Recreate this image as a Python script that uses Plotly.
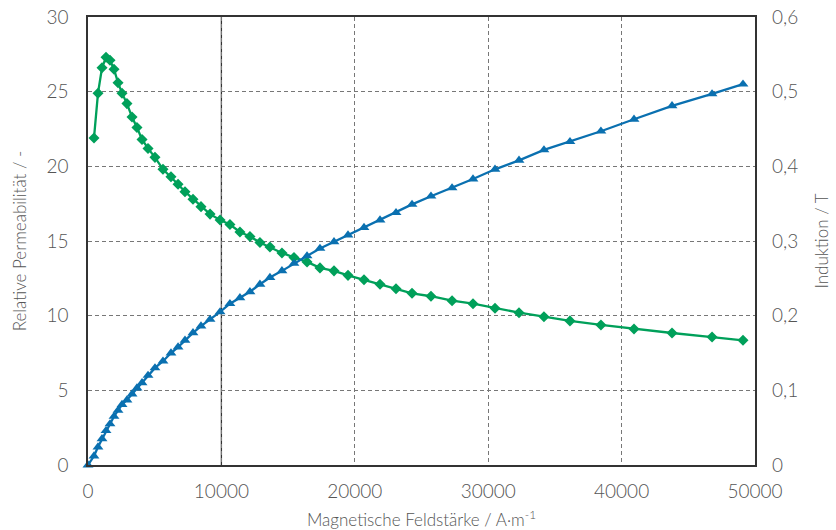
import plotly.graph_objects as go

# Magnetic field strength H (A/m) for the blue induction curve
H_B = [0, 450, 750, 1050, 1350, 1650, 1950, 2250, 2550, 2920, 3300, 3670, 4050, 4500,
       5020, 5620, 6220, 6750, 7270, 7870, 8470, 9150, 9900, 10640, 11390, 12140,
       12890, 13640, 14540, 15440, 16420, 17390, 18440, 19490, 20690, 21890, 23090,
       24290, 25710, 27290, 28860, 30510, 32310, 34180, 36130, 38450, 40930, 43780,
       46780, 49100]
induction = [0, 0.012, 0.024, 0.035, 0.046, 0.055, 0.065, 0.073, 0.081, 0.087, 0.095,
             0.103, 0.110, 0.120, 0.130, 0.139, 0.150, 0.158, 0.167, 0.177, 0.186,
             0.195, 0.205, 0.216, 0.224, 0.232, 0.242, 0.251, 0.260, 0.270, 0.280,
             0.290, 0.299, 0.308, 0.318, 0.328, 0.338, 0.349, 0.360, 0.371, 0.383,
             0.396, 0.408, 0.422, 0.433, 0.447, 0.463, 0.481, 0.497, 0.510]

# Relative permeability (green curve)
H_mu = H_B[1:]
permeability = [21.9, 24.9, 26.6, 27.3, 27.1, 26.5, 25.6, 24.9, 24.2, 23.3, 22.6, 21.8,
                21.2, 20.6, 19.8, 19.3, 18.8, 18.3, 17.8, 17.3, 16.8, 16.4, 16.1, 15.6,
                15.3, 14.9, 14.6, 14.2, 13.9, 13.6, 13.2, 13.0, 12.7, 12.4, 12.1, 11.8,
                11.5, 11.3, 11.0, 10.8, 10.5, 10.2, 9.93, 9.65, 9.38, 9.11, 8.84, 8.57,
                8.35]

x_ticks = [0, 10000, 20000, 30000, 40000, 50000]
x_ticklabels = ["0", "10000", "20000", "30000", "40000", "50000"]
y_ticks = [0, 5, 10, 15, 20, 25, 30]
y2_ticks = [0, 0.1, 0.2, 0.3, 0.4, 0.5, 0.6]
y2_ticklabels = ["0", "0,1", "0,2", "0,3", "0,4", "0,5", "0,6"]
solid_grid_x = 10000

GREEN = "#00a05a"
BLUE = "#0a70b0"
TXT = "#555555"
FONT = "Lato"
TICKFONT = dict(family=FONT, size=19, color=TXT, weight=300)
TITLEFONT = dict(family=FONT, size=17, color=TXT, weight=300)
GRID = dict(showgrid=True, gridcolor="#777777", griddash="4px,3px", gridwidth=1)

fig = go.Figure()
fig.add_trace(go.Scatter(
    x=H_mu, y=permeability, mode="lines+markers", name="Relative Permeabilität",
    line=dict(color=GREEN, width=2.3),
    marker=dict(symbol="diamond", size=8.5, color=GREEN),
    cliponaxis=False))
fig.add_trace(go.Scatter(
    x=H_B, y=induction, mode="lines+markers", name="Induktion", yaxis="y2",
    line=dict(color=BLUE, width=2.3),
    marker=dict(symbol="triangle-up", size=9.5, color=BLUE),
    cliponaxis=False))

fig.add_shape(type="line", xref="x", yref="paper", x0=solid_grid_x, x1=solid_grid_x,
              y0=0, y1=1, line=dict(color="#333333", width=1.3), layer="below")

fig.update_layout(
    width=836, height=530,
    margin=dict(l=88, r=81, t=17, b=65),
    plot_bgcolor="white", paper_bgcolor="white",
    showlegend=False,
    font=dict(family=FONT, color=TXT, size=17),
    xaxis=dict(
        range=[0, 50000], tickvals=x_ticks, ticktext=x_ticklabels, automargin=False,
        showline=True, linecolor="#333333", linewidth=1.5, mirror=True,
        zeroline=False, ticks="", ticklabelstandoff=8,
        tickfont=TICKFONT,
        title=dict(text="Magnetische Feldstärke / A·m<sup>-1</sup>",
                   font=TITLEFONT, standoff=14),
        **GRID,
    ),
    yaxis=dict(
        range=[0, 30], tickvals=y_ticks, automargin=False,
        showline=True, linecolor="#333333", linewidth=1.5, mirror=True,
        zeroline=False, ticks="", ticklabelstandoff=14,
        tickfont=TICKFONT,
        title=dict(text="Relative Permeabilität / -", font=TITLEFONT, standoff=15),
        **GRID,
    ),
    yaxis2=dict(
        range=[0, 0.6], tickvals=y2_ticks, ticktext=y2_ticklabels, automargin=False,
        overlaying="y", side="right", showgrid=False, zeroline=False,
        showline=False, ticks="", ticklabelstandoff=16,
        tickfont=TICKFONT,
        title=dict(text="Induktion / T", font=TITLEFONT, standoff=18),
    ),
)

fig.write_html("out.html",
               config={"displayModeBar": False},
               post_script="document.body.style.margin='0';document.body.style.overflow='hidden';")
